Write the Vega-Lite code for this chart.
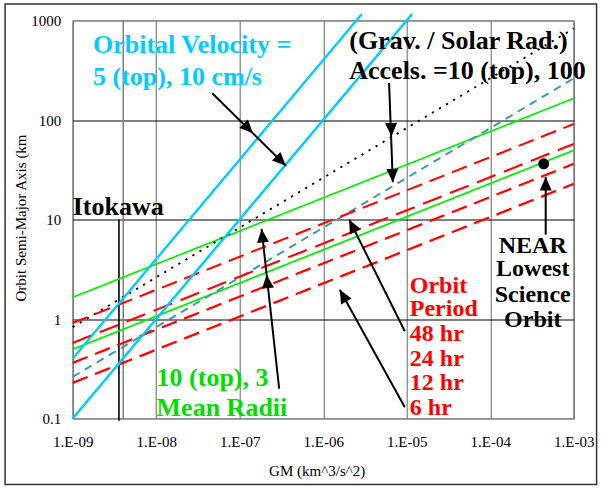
{
  "$schema": "https://vega.github.io/schema/vega-lite/v6.json",
  "autosize": {"type": "none"},
  "width": 501,
  "height": 398,
  "padding": {"left": 72.7, "top": 20.5, "right": 31.3, "bottom": 71.5},
  "background": "white",
  "config": {
    "font": "Liberation Serif",
    "view": {"stroke": "#808080", "strokeWidth": 1.2}
  },
  "encoding": {
    "x": {
      "field": "GM", "type": "quantitative",
      "scale": {"type": "log", "domain": [1e-9, 1e-3], "nice": false},
      "axis": {
        "title": "GM (km^3/s^2)",
        "values": [1e-9, 1e-8, 1e-7, 1e-6, 1e-5, 1e-4, 1e-3],
        "labelExpr": "'1.E-0' + toString(-round(log(datum.value)/LN10))",
        "grid": true, "gridColor": "#666666", "gridWidth": 1,
        "ticks": false, "domain": false,
        "labelFont": "Liberation Serif", "labelFontSize": 15, "labelColor": "black",
        "labelPadding": 16, "labelFlush": false, "labelOverlap": false,
        "titleFont": "Liberation Serif", "titleFontSize": 15, "titleFontWeight": "normal",
        "titleColor": "black", "titleX": 244, "titleY": 57, "titleBaseline": "alphabetic", "titleAlign": "center"
      }
    },
    "y": {
      "field": "a", "type": "quantitative",
      "scale": {"type": "log", "domain": [0.1, 1000], "nice": false},
      "axis": {
        "title": "Orbit Semi-Major Axis (km",
        "values": [0.1, 1, 10, 100, 1000],
        "format": "~g",
        "grid": true,
        "gridColor": {"condition": {"test": "datum.value >= 1000 || datum.value <= 0.1", "value": "#808080"}, "value": "black"},
        "gridWidth": 1,
        "ticks": false, "domain": false,
        "labelFont": "Liberation Serif", "labelFontSize": 15, "labelColor": "black",
        "labelPadding": 12, "labelFlush": false, "labelOverlap": false,
        "titleFont": "Liberation Serif", "titleFontSize": 15, "titleFontWeight": "normal",
        "titleColor": "black", "titleX": -47.5, "titleY": 197, "titleAngle": -90,
        "titleBaseline": "alphabetic", "titleAlign": "center"
      }
    }
  },
  "layer": [
    {
      "data": {"values": [{"GM": 1.55e-10, "a": 1469, "GM2": 1.88e-3, "a2": 0.0217}]},
      "mark": {"type": "rect", "filled": false, "color": "#333333", "strokeWidth": 1.5, "clip": false},
      "encoding": {
        "x2": {"field": "GM2"},
        "y2": {"field": "a2"}
      }
    },
    {
      "data": {"values": [
        {"s": "axis2", "GM": 4.03e-9, "a": 0.1}, {"s": "axis2", "GM": 4.03e-9, "a": 1000},
        {"s": "itokawa", "GM": 3.58e-9, "a": 10}, {"s": "itokawa", "GM": 3.58e-9, "a": 0.095},
        {"s": "r10", "GM": 1e-9, "a": 1.65}, {"s": "r10", "GM": 1e-3, "a": 165},
        {"s": "r3", "GM": 1e-9, "a": 0.495}, {"s": "r3", "GM": 1e-3, "a": 49.5},
        {"s": "g10", "GM": 1e-9, "a": 0.83}, {"s": "g10", "GM": 1e-3, "a": 830},
        {"s": "g100", "GM": 1e-9, "a": 0.262}, {"s": "g100", "GM": 1e-3, "a": 262},
        {"s": "p48", "GM": 1e-9, "a": 0.911}, {"s": "p48", "GM": 1e-3, "a": 91.1},
        {"s": "p24", "GM": 1e-9, "a": 0.574}, {"s": "p24", "GM": 1e-3, "a": 57.4},
        {"s": "p12", "GM": 1e-9, "a": 0.362}, {"s": "p12", "GM": 1e-3, "a": 36.2},
        {"s": "p6", "GM": 1e-9, "a": 0.228}, {"s": "p6", "GM": 1e-3, "a": 22.8},
        {"s": "v5", "GM": 1e-9, "a": 0.4}, {"s": "v5", "GM": 2.9e-6, "a": 1160},
        {"s": "v10", "GM": 1e-9, "a": 0.1}, {"s": "v10", "GM": 1.16e-5, "a": 1160}
      ]},
      "mark": {"type": "line", "clip": false},
      "encoding": {
        "color": {"field": "s", "type": "nominal", "legend": null,
          "scale": {"domain": ["axis2", "itokawa", "r10", "r3", "g10", "g100", "p48", "p24", "p12", "p6", "v5", "v10"],
                    "range": ["#808080", "black", "#00EE00", "#00EE00", "black", "#3A98A8", "#FF0000", "#FF0000", "#FF0000", "#FF0000", "#00CCFF", "#00CCFF"]}},
        "strokeWidth": {"field": "s", "type": "nominal", "legend": null,
          "scale": {"domain": ["axis2", "itokawa", "r10", "r3", "g10", "g100", "p48", "p24", "p12", "p6", "v5", "v10"],
                    "range": [1.5, 2.5, 2.5, 2.5, 2.2, 0.9, 2.5, 4.5, 2.5, 2.5, 4.5, 2.5]}},
        "strokeDash": {"field": "s", "type": "nominal", "legend": null,
          "scale": {"domain": ["axis2", "itokawa", "r10", "r3", "g10", "g100", "p48", "p24", "p12", "p6", "v5", "v10"],
                    "range": [[1, 0], [1, 0], [1, 0], [1, 0], [2.2, 6], [8, 6], [16, 8], [20, 9], [16, 8], [16, 8], [1, 0], [1, 0]]}}
      }
    },
    {
      "data": {"values": [
        {"GM": 4.69e-8, "a": 186, "GM2": 3.57e-7, "a2": 34.7},
        {"GM": 6.15e-6, "a": 235, "GM2": 6.82e-6, "a2": 23.7},
        {"GM": 2.97e-7, "a": 0.199, "GM2": 1.83e-7, "a2": 8.03},
        {"GM": 9.49e-6, "a": 0.754, "GM2": 2.05e-6, "a2": 9.95},
        {"GM": 9.49e-6, "a": 0.13, "GM2": 1.58e-6, "a2": 1.97},
        {"GM": 4.62e-4, "a": 7.03, "GM2": 4.62e-4, "a2": 26.7}
      ]},
      "mark": {"type": "rule", "color": "black", "strokeWidth": 2},
      "encoding": {
        "x2": {"field": "GM2"},
        "y2": {"field": "a2"}
      }
    },
    {
      "data": {"values": [
        {"GM": 1.45e-7, "a": 73.5, "heading": 134.6},
        {"GM": 3.57e-7, "a": 34.7, "heading": 134.6},
        {"GM": 6.58e-6, "a": 68.3, "heading": 178},
        {"GM": 6.82e-6, "a": 23.7, "heading": 178},
        {"GM": 2.10e-7, "a": 2.79, "heading": 354},
        {"GM": 1.83e-7, "a": 8.03, "heading": 354},
        {"GM": 2.05e-6, "a": 9.95, "heading": 333.5},
        {"GM": 1.58e-6, "a": 1.97, "heading": 331},
        {"GM": 4.62e-4, "a": 26.7, "heading": 0}
      ]},
      "mark": {"type": "point", "shape": "M0,0L-1.2,2.7L1.2,2.7Z", "filled": true, "color": "black", "opacity": 1, "size": 100},
      "encoding": {
        "angle": {"field": "heading", "type": "quantitative", "scale": null}
      }
    },
    {
      "data": {"values": [{"GM": 4.37e-4, "a": 36.3}]},
      "mark": {"type": "point", "shape": "circle", "filled": true, "color": "black", "opacity": 1, "size": 120}
    },
    {
      "data": {"values": [
        {"t": "Orbital Velocity =", "g": "vel", "GM": 1.75e-9, "a": 473},
        {"t": "5 (top), 10 cm/s", "g": "vel", "GM": 1.75e-9, "a": 225.5},
        {"t": "(Grav. / Solar Rad.)", "g": "blk", "GM": 2.05e-6, "a": 519},
        {"t": "Accels. =10 (top), 100", "g": "blk", "GM": 2.05e-6, "a": 259},
        {"t": "Itokawa", "g": "blk", "GM": 1e-9, "a": 11.17},
        {"t": "10 (top), 3", "g": "rad", "GM": 1.01e-8, "a": 0.211},
        {"t": "Mean Radii", "g": "rad", "GM": 1.01e-8, "a": 0.105}
      ]},
      "mark": {"type": "text", "align": "left", "baseline": "alphabetic", "font": "Liberation Serif", "fontWeight": "bold", "fontSize": 26},
      "encoding": {
        "text": {"field": "t"},
        "color": {"field": "g", "type": "nominal", "legend": null,
          "scale": {"domain": ["vel", "blk", "rad"], "range": ["#00CCFF", "black", "#00DD00"]}}
      }
    },
    {
      "data": {"values": [
        {"t": "Orbit", "GM": 1.089e-5, "a": 1.84},
        {"t": "Period", "GM": 1.089e-5, "a": 1.06},
        {"t": "48 hr", "GM": 1.089e-5, "a": 0.597},
        {"t": "24 hr", "GM": 1.089e-5, "a": 0.339},
        {"t": "12 hr", "GM": 1.089e-5, "a": 0.1925},
        {"t": "6 hr", "GM": 1.089e-5, "a": 0.1092}
      ]},
      "mark": {"type": "text", "align": "left", "baseline": "alphabetic", "font": "Liberation Serif", "fontWeight": "bold", "fontSize": 24, "color": "#FF0000"},
      "encoding": {
        "text": {"field": "t"}
      }
    },
    {
      "data": {"values": [
        {"t": "NEAR", "GM": 3.23e-4, "a": 4.61},
        {"t": "Lowest", "GM": 3.23e-4, "a": 2.68},
        {"t": "Science", "GM": 3.23e-4, "a": 1.47},
        {"t": "Orbit", "GM": 3.23e-4, "a": 0.834}
      ]},
      "mark": {"type": "text", "align": "center", "baseline": "alphabetic", "font": "Liberation Serif", "fontWeight": "bold", "fontSize": 24, "color": "black"},
      "encoding": {
        "text": {"field": "t"}
      }
    }
  ],
  "resolve": {"scale": {"color": "independent"}}
}
